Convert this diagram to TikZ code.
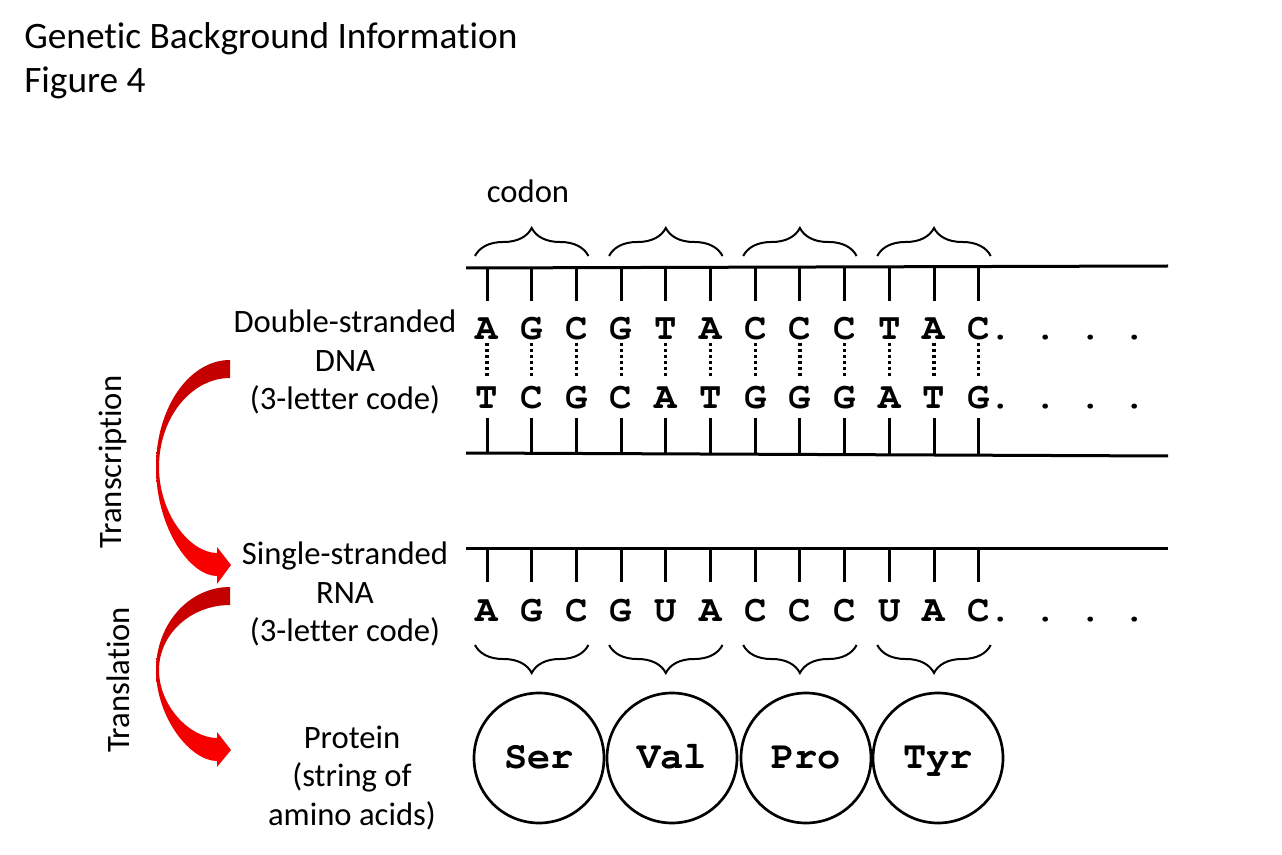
\documentclass[tikz,border=0pt]{standalone}
\usepackage{fontspec}
\setmainfont{Carlito}[Ligatures=NoCommon]
\newfontfamily\cour{TeX Gyre Cursor}
\usetikzlibrary{decorations.pathreplacing}
\definecolor{dkred}{RGB}{192,0,0}
\begin{document}
\begin{tikzpicture}[x=0.75pt,y=-0.75pt,
  strand/.style={line width=2.25pt},
  pairline/.style={line width=2.4pt, dash pattern=on 2.4pt off 2.1pt},
  basechar/.style={font=\fontsize{28}{28}\selectfont\cour\bfseries, inner sep=0pt, anchor=base},
  lbl/.style={font=\fontsize{24.5}{29}\selectfont, align=center, inner sep=0pt},
  title/.style={font=\fontsize{28}{33}\selectfont, inner sep=0pt, anchor=base west},
  brc/.style={decorate, decoration={brace, amplitude=21pt}, line width=1.5pt},
  brcdown/.style={decorate, decoration={brace, amplitude=21pt, mirror}, line width=1.5pt},
  aa/.style={circle, draw, line width=2pt, minimum size=97.5pt, inner sep=0pt, text height=16pt, text depth=0pt, font=\fontsize{29}{29}\selectfont\cour\bfseries},
  redarrow/.style={top color=dkred, bottom color=red, draw=none}
]
\useasboundingbox (0,0) rectangle (1282,855);

% title
\node[title] (t1) at (24,49) {Genetic Background Information};
\node[title] (t2) at (24,93) {Figure 4};

% codon label
\node[font=\fontsize{24.5}{29}\selectfont, inner sep=0pt, anchor=base] (codon) at (528,203) {codon};

% strands
\draw[strand] (466,268) -- (1168,266);
\draw[strand] (466,453) -- (1168,456);
\draw[strand] (466,548) -- (1168,548);

% letters
\foreach \i/\t/\b/\r in {1/A/T/A,2/G/C/G,3/C/G/C,4/G/C/G,5/T/A/U,6/A/T/A,7/C/G/C,8/C/G/C,9/C/G/C,10/T/A/U,11/A/T/A,12/C/G/C}{
  \pgfmathsetmacro{\xx}{487+44.7*(\i-1)}
  \node[basechar] (d\i) at (\xx,340) {\t};
  \node[basechar] (c\i) at (\xx,409) {\b};
  \node[basechar] (r\i) at (\xx,621) {\r};
  \draw[strand] (\xx,267) -- (\xx,301);
  \draw[pairline] (\xx,343) -- (\xx,378);
  \draw[strand] (\xx,418) -- (\xx,454);
  \draw[strand] (\xx,548) -- (\xx,582);
}
% trailing dots
\foreach \k in {1,3,5,7}{
  \pgfmathsetmacro{\xx}{978.7+22.35*\k}
  \node[basechar] (dd\k) at (\xx,340) {.};
  \node[basechar] (cd\k) at (\xx,409) {.};
  \node[basechar] (rd\k) at (\xx,621) {.};
}

% braces
\foreach \k in {0,1,2,3}{
  \pgfmathsetmacro{\xl}{487+44.7*3*\k-12}
  \pgfmathsetmacro{\xr}{487+44.7*(3*\k+2)+12}
  \draw[brc] (\xl,256) -- (\xr,256);
  \draw[brcdown] (\xl,645) -- (\xr,645);
}

% left labels
\node[lbl] (dna) at (345,362) {Double-stranded\\DNA\\(3-letter code)};
\node[lbl] (rna) at (345,594) {Single-stranded\\RNA\\(3-letter code)};
\node[lbl] (prot) at (352,778) {Protein\\(string of\\amino acids)};

% amino acids
\node[aa] (ser) at (539,758) {Ser};
\node[aa] (val) at (672,758) {Val};
\node[aa] (pro) at (806,758) {Pro};
\node[aa] (tyr) at (938,758) {Tyr};

% process labels
\node[lbl, rotate=90] (transc) at (113,462) {Transcription};
\node[lbl, rotate=90] (transl) at (118,680) {Translation};

% red curved arrows
\shade[redarrow] (230,360) .. controls (189,360) and (156,408) .. (156,467)
  .. controls (156,528) and (190,576) .. (217,576)
  -- (217,584) -- (231,565) -- (217,547) -- (217,553)
  .. controls (190,553) and (159,514) .. (159,467)
  .. controls (159,418) and (191,378) .. (230,378) -- cycle;
\shade[redarrow] (230,587) .. controls (189,587) and (156,624) .. (156,670)
  .. controls (156,717) and (190,761) .. (217,761)
  -- (217,767) -- (231,750) -- (217,732) -- (217,738)
  .. controls (190,738) and (159,706) .. (159,670)
  .. controls (159,634) and (191,605) .. (230,605) -- cycle;
\end{tikzpicture}
\end{document}
